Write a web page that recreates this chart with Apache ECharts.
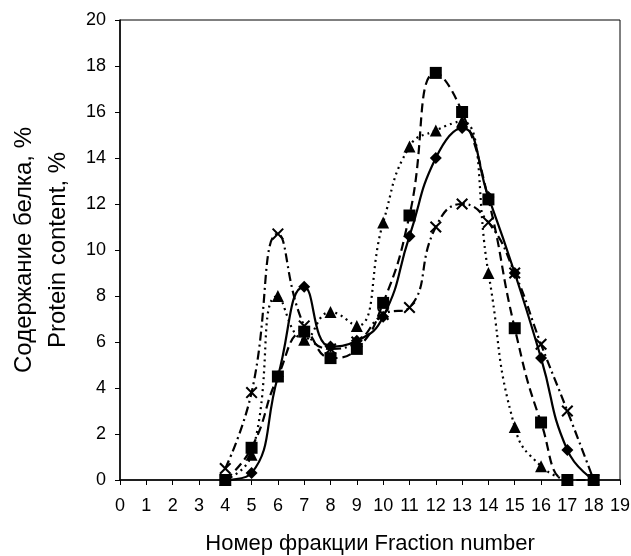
<!DOCTYPE html>
<html>
<head>
<meta charset="utf-8">
<script src="https://cdn.jsdelivr.net/npm/echarts@6/dist/echarts.min.js"></script>
<style>
html,body{margin:0;padding:0;background:#fff;}
#chart{width:631px;height:556px;}
</style>
</head>
<body>
<div id="chart"></div>
<script>
// Fraction numbers (x positions)
const fractions = [4, 5, 6, 7, 8, 9, 10, 11, 12, 13, 14, 15, 16, 17, 18];
// Series values, one per fraction
const diamondValues  = [0, 0.3, 4.5, 8.4, 5.8, 6.05, 7.1, 10.6, 14.0, 15.3, 12.3, 9.0, 5.3, 1.3, 0];
const squareValues   = [0, 1.4, 4.5, 6.45, 5.3, 5.7, 7.7, 11.5, 17.7, 16.0, 12.2, 6.6, 2.5, 0, 0];
const triangleValues = [0, 1.1, 8.0, 6.1, 7.3, 6.7, 11.2, 14.5, 15.2, 15.6, 9.0, 2.3, 0.6, 0];
const crossValues    = [0.5, 3.8, 10.7, 6.7, 5.7, 6.0, 7.2, 7.5, 11.0, 12.0, 11.2, 9.0, 5.9, 3.0, 0];

const xTitle = 'Номер фракции Fraction number';
const yTitle = 'Содержание белка, %\nProtein content, %';

const pairs = vals => vals.map((v, i) => [fractions[i], v]);
const FONT = '"Liberation Sans", Arial, sans-serif';
const crossPath = 'path://M0,1.2 L1.2,0 L5,3.8 L8.8,0 L10,1.2 L6.2,5 L10,8.8 L8.8,10 L5,6.2 L1.2,10 L0,8.8 L3.8,5 Z';

const chart = echarts.init(document.getElementById('chart'), null, {renderer: 'canvas'});
function mk(name, vals, symbol, size, lineType) {
  return {
    name, type: 'line', data: pairs(vals), smooth: 0.5,
    symbol, symbolSize: size, showSymbol: true,
    lineStyle: {color: '#000', width: 2.2, type: lineType, cap: 'butt'},
    itemStyle: {color: '#000'},
    animation: false
  };
}
chart.setOption({
  backgroundColor: '#fff',
  animation: false,
  grid: {left: 120, right: 11, top: 20, bottom: 76, show: true, borderColor: '#000', borderWidth: 1,
         containLabel: false, outerBoundsMode: 'none'},
  xAxis: {
    type: 'value', min: 0, max: 19, interval: 1,
    name: xTitle, nameLocation: 'middle', nameGap: 53,
    nameTextStyle: {fontFamily: FONT, fontSize: 22, color: '#000'},
    axisLine: {show: true, lineStyle: {color: '#000', width: 1.5}},
    axisTick: {show: true, inside: false, length: 5, lineStyle: {color: '#000', width: 1}},
    axisLabel: {fontFamily: FONT, fontSize: 18, color: '#000', margin: 17},
    splitLine: {show: false}
  },
  yAxis: {
    type: 'value', min: 0, max: 20, interval: 2,
    name: yTitle, nameLocation: 'middle', nameGap: 45, nameRotate: 90,
    nameTextStyle: {fontFamily: FONT, fontSize: 24, color: '#000', lineHeight: 34, align: 'center'},
    axisLine: {show: true, lineStyle: {color: '#000', width: 1.5}},
    axisTick: {show: true, inside: false, length: 5, lineStyle: {color: '#000', width: 1}},
    axisLabel: {fontFamily: FONT, fontSize: 18, color: '#000', margin: 14},
    splitLine: {show: false}
  },
  series: [
    mk('diamond', diamondValues, 'diamond', 12, 'solid'),
    mk('square', squareValues, 'rect', 12, [9, 5]),
    mk('triangle', triangleValues, 'triangle', 12, [2, 4]),
    mk('cross', crossValues, crossPath, 12, [9, 4, 2, 4])
  ]
});
</script>
</body>
</html>
